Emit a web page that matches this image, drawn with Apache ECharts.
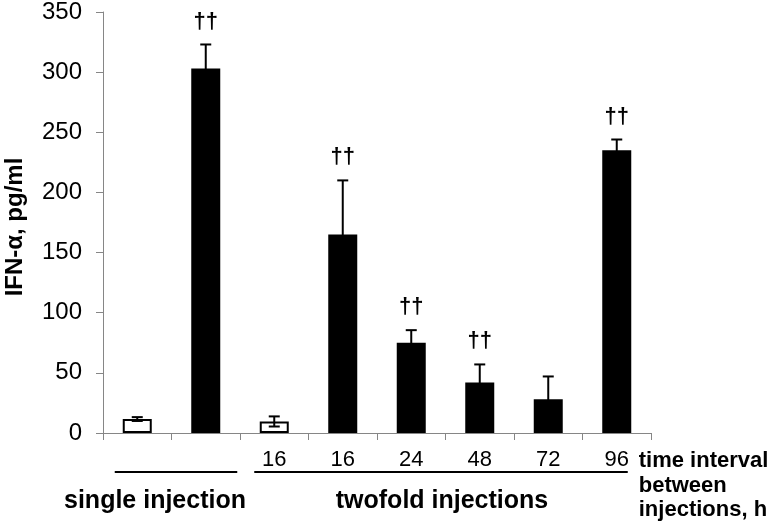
<!DOCTYPE html>
<html>
<head>
<meta charset="utf-8">
<script src="https://cdn.jsdelivr.net/npm/echarts@6/dist/echarts.min.js"></script>
<style>
html,body{margin:0;padding:0;background:#fff;}
#main{width:769px;height:524px;}
</style>
</head>
<body>
<div id="main"></div>
<script>
// ---- data ----
var xLabels = ['', '', '16', '16', '24', '48', '72', '96'];
var values = [11.6, 303, 9.6, 165, 75, 42, 28, 235];
var errors = [1.6, 20, 4.2, 45, 10.5, 15, 19, 9];
var marks = ['', '††', '', '††', '††', '††', '', '††'];
var isControl = [true, false, true, false, false, false, false, false];
var yTicks = [0, 50, 100, 150, 200, 250, 300, 350];
var groupNames = ['single injection', 'twofold injections'];
var groupFrom = [0, 2];
var groupTo = [1, 7];
var yAxisTitle = 'IFN-α, pg/ml';
var sideTitle = ['time interval', 'between', 'injections, h'];

var FONT = 'Liberation Sans, Arial, sans-serif';
var chart = echarts.init(document.getElementById('main'), null, {renderer: 'canvas'});

var barData = values.map(function (v, i) {
  return {
    value: v,
    itemStyle: isControl[i]
      ? {color: '#ffffff', borderColor: '#000000', borderWidth: 2}
      : {color: '#000000', borderColor: '#000000', borderWidth: 0}
  };
});
var errData = values.map(function (v, i) { return [i, v, errors[i]]; });

chart.setOption({
  animation: false,
  grid: {left: 103, right: 118, top: 10, bottom: 91, containLabel: false},
  xAxis: {
    type: 'category',
    data: xLabels,
    axisLine: {lineStyle: {color: '#868686', width: 1}},
    axisTick: {show: true, inside: false, length: 7, alignWithLabel: false, lineStyle: {color: '#868686'}},
    axisLabel: {color: '#000', fontFamily: FONT, fontSize: 22, margin: 16, interval: 0},
    splitLine: {show: false}
  },
  yAxis: {
    type: 'value',
    min: yTicks[0],
    max: yTicks[yTicks.length - 1],
    interval: yTicks[1] - yTicks[0],
    axisLine: {show: true, lineStyle: {color: '#868686', width: 1}},
    axisTick: {show: true, inside: false, length: 7, lineStyle: {color: '#868686'}},
    axisLabel: {color: '#000', fontFamily: FONT, fontSize: 24, margin: 21},
    splitLine: {show: false}
  },
  series: [
    {
      type: 'bar',
      data: barData,
      barWidth: 29,
      z: 2
    },
    {
      type: 'custom',
      data: errData,
      z: 3,
      renderItem: function (params, api) {
        var i = api.value(0), v = api.value(1), e = api.value(2);
        var top = api.coord([i, v + e]);
        var bot = api.coord([i, v - e]);
        var x = top[0];
        var hw = 5.5;
        var style = {stroke: '#000', lineWidth: 2};
        var children = [
          {type: 'line', shape: {x1: x, y1: top[1], x2: x, y2: bot[1]}, style: style},
          {type: 'line', shape: {x1: x - hw, y1: top[1], x2: x + hw, y2: top[1]}, style: style},
          {type: 'line', shape: {x1: x - hw, y1: bot[1], x2: x + hw, y2: bot[1]}, style: style}
        ];
        var m = marks[params.dataIndex];
        if (m) {
          children.push({
            type: 'text',
            style: {
              text: m, x: x, y: top[1] - 23,
              align: 'center', verticalAlign: 'middle',
              fill: '#000', font: 'bold 22px ' + FONT
            }
          });
        }
        return {type: 'group', children: children};
      }
    }
  ]
});

// annotations
var lineOff = [[-22.5, 31.5], [-20, 11]];
var labelShift = [-21, 1];
var graphics = [];
graphics.push({
  type: 'text', silent: true,
  x: 15, y: 227, rotation: Math.PI / 2,
  style: {text: yAxisTitle, align: 'center', verticalAlign: 'middle',
          fill: '#000', font: 'bold 24px ' + FONT}
});
for (var g = 0; g < groupNames.length; g++) {
  var xa = chart.convertToPixel({xAxisIndex: 0}, groupFrom[g]);
  var xb = chart.convertToPixel({xAxisIndex: 0}, groupTo[g]);
  var x1 = xa + lineOff[g][0], x2 = xb + lineOff[g][1];
  graphics.push({
    type: 'line', silent: true,
    shape: {x1: x1, y1: 472, x2: x2, y2: 472},
    style: {stroke: '#000', lineWidth: 2}
  });
  graphics.push({
    type: 'text', silent: true,
    x: (x1 + x2) / 2 + labelShift[g], y: 501,
    style: {text: groupNames[g], align: 'center', verticalAlign: 'middle',
            fill: '#000', font: 'bold 25px ' + FONT}
  });
}
var xLast = chart.convertToPixel({xAxisIndex: 0}, xLabels.length - 1);
for (var k = 0; k < sideTitle.length; k++) {
  graphics.push({
    type: 'text', silent: true,
    x: xLast + 22, y: 461 + k * 24.5,
    style: {text: sideTitle[k], align: 'left', verticalAlign: 'middle',
            fill: '#000', font: 'bold 22px ' + FONT}
  });
}
chart.setOption({graphic: graphics});
</script>
</body>
</html>
